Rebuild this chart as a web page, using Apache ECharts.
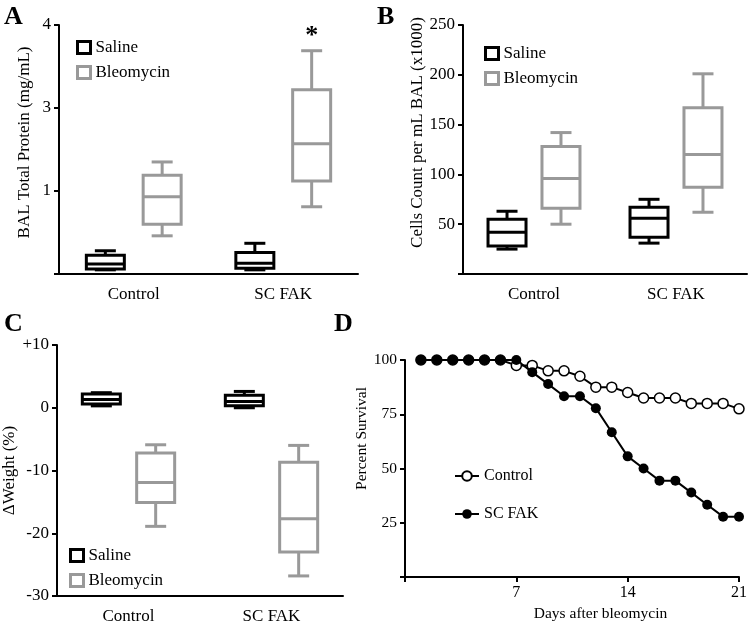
<!DOCTYPE html>
<html>
<head>
<meta charset="utf-8">
<script src="https://cdn.jsdelivr.net/npm/echarts@6/dist/echarts.min.js"></script>
<style>
  html, body { margin: 0; padding: 0; background: #fff; }
  #chart { width: 750px; height: 625px; }
</style>
</head>
<body>
<div id="chart"></div>
<script>
const groups = ['Control', 'SC FAK'];

// box data: [min, q1, median, q3, max]
// panel A is in axis-position units (tick labels are 1, 3, 4 as printed)
const proteinTicks = ['', '1', '3', '4'];
const proteinSaline = [[0.05, 0.06, 0.12, 0.225, 0.28], [0.05, 0.07, 0.13, 0.26, 0.37]];
const proteinBleo = [[0.46, 0.60, 0.93, 1.19, 1.35], [0.81, 1.12, 1.57, 2.22, 2.69]];
const proteinStars = ['', '*'];

const cellsSaline = [[25, 28, 42, 55, 63], [31, 37, 56, 67, 75]];
const cellsBleo = [[50, 66, 96, 128, 142], [62, 87, 120, 167, 201]];

const weightSaline = [[0.3, 0.6, 1.3, 2.2, 2.4], [0.0, 0.3, 1.0, 2.0, 2.6]];
const weightBleo = [[-18.9, -15.1, -11.9, -7.2, -5.9], [-26.8, -23.0, -17.7, -8.7, -6.0]];

const days = [1, 2, 3, 4, 5, 6, 7, 8, 9, 10, 11, 12, 13, 14, 15, 16, 17, 18, 19, 20, 21];
const survivalControl = [100, 100, 100, 100, 100, 100, 97.5, 97.5, 95, 95, 92.5, 87.5, 87.5, 85, 82.5, 82.5, 82.5, 80, 80, 80, 77.5];
const survivalFak = [100, 100, 100, 100, 100, 100, 100, 94.4, 88.9, 83.3, 83.3, 77.8, 66.7, 55.6, 50, 44.4, 44.4, 38.9, 33.3, 27.8, 27.8];

const FONT = '"Liberation Serif", "Times New Roman", serif';
const BLACK = '#000';
const GREY = '#999999';
const BOX_W = 38;
const CAP_W = 21;
const BOX_SHIFT = 0.19;

const boxRows = (arr) => arr.map((v, i) => [i].concat(v));

function renderBox(side, stars) {
  return function (params, api) {
    const idx = api.value(0);
    const band = api.size([1, 0])[0];
    const cx = api.coord([idx, 0])[0] + side * band * BOX_SHIFT;
    const y = [1, 2, 3, 4, 5].map(d => api.coord([idx, api.value(d)])[1]);
    const color = api.visual('color');
    const st = { stroke: color, lineWidth: 3, fill: null };
    const h = BOX_W / 2, c = CAP_W / 2;
    const kids = [
      { type: 'line', shape: { x1: cx, y1: y[0], x2: cx, y2: y[1] }, style: st },
      { type: 'line', shape: { x1: cx, y1: y[3], x2: cx, y2: y[4] }, style: st },
      { type: 'line', shape: { x1: cx - c, y1: y[0], x2: cx + c, y2: y[0] }, style: st },
      { type: 'line', shape: { x1: cx - c, y1: y[4], x2: cx + c, y2: y[4] }, style: st },
      { type: 'rect', shape: { x: cx - h, y: y[3], width: 2 * h, height: y[1] - y[3] }, style: { stroke: color, lineWidth: 3, fill: '#fff' } },
      { type: 'line', shape: { x1: cx - h, y1: y[2], x2: cx + h, y2: y[2] }, style: st }
    ];
    if (stars && stars[idx]) {
      kids.push({ type: 'text', style: { x: cx, y: y[4] - 1, text: stars[idx], align: 'center', verticalAlign: 'bottom',
        font: 'bold 26px ' + FONT, fill: '#000' } });
    }
    return { type: 'group', children: kids };
  };
}

const axisLine = { lineStyle: { color: BLACK, width: 2 } };
const axisTick = { length: 5, lineStyle: { color: BLACK, width: 2 } };
const tickLabel = { color: BLACK, fontFamily: FONT, fontSize: 17 };

function catAxis(gridIndex) {
  return {
    type: 'category', gridIndex, data: groups, boundaryGap: true,
    axisLine: { onZero: false, lineStyle: axisLine.lineStyle },
    axisTick: { alignWithLabel: true, length: 6, lineStyle: axisTick.lineStyle },
    axisLabel: Object.assign({ margin: 12 }, tickLabel)
  };
}

function valAxis(gridIndex, min, max, interval, fmt, name, nameGap, shift, size) {
  return {
    type: 'value', gridIndex, min, max, interval,
    axisLine: Object.assign({ show: true }, axisLine), axisTick: Object.assign({ show: true }, axisTick),
    splitLine: { show: false },
    axisLabel: Object.assign({}, tickLabel, { margin: 8, formatter: fmt, fontSize: size }),
    name, nameLocation: 'middle', nameGap,
    nameTextStyle: { color: BLACK, fontFamily: FONT, fontSize: size, padding: [0, 0, 0, shift] }
  };
}

function boxLegend(left, top) {
  return {
    left, top, orient: 'vertical', icon: 'rect', itemWidth: 13, itemHeight: 12, itemGap: 8, padding: 0,
    selectedMode: false,
    textStyle: { color: BLACK, fontFamily: FONT, fontSize: 17 },
    data: [
      { name: 'Saline', itemStyle: { color: '#fff', borderColor: BLACK, borderWidth: 3 } },
      { name: 'Bleomycin', itemStyle: { color: '#fff', borderColor: GREY, borderWidth: 3 } }
    ]
  };
}

function panelTitle(text, left, top) {
  return { text, left, top, padding: 0, textStyle: { fontFamily: FONT, fontSize: 26, fontWeight: 'bold', color: BLACK } };
}

function boxSeries(name, color, side, data, axisIdx, stars) {
  return {
    type: 'custom', name, xAxisIndex: axisIdx, yAxisIndex: axisIdx, clip: false,
    itemStyle: { color }, data: boxRows(data), renderItem: renderBox(side, stars)
  };
}

const chart = echarts.init(document.getElementById('chart'));
chart.setOption({
  animation: false,
  title: [
    panelTitle('A', 4, 4),
    panelTitle('B', 377, 4),
    panelTitle('C', 4, 311),
    panelTitle('D', 334, 311)
  ],
  legend: [
    boxLegend(76, 39),
    boxLegend(484, 45),
    boxLegend(69, 547),
    {
      left: 454, top: 468, orient: 'vertical', itemWidth: 24, itemHeight: 12, itemGap: 22, padding: 0,
      selectedMode: false,
      textStyle: { color: BLACK, fontFamily: FONT, fontSize: 16 },
      data: ['Control', 'SC FAK']
    }
  ],
  grid: [
    { left: 59, top: 25, width: 299, height: 249 },
    { left: 463, top: 25, width: 284, height: 249 },
    { left: 57, top: 345, width: 286, height: 251 },
    { left: 405, top: 360, width: 339, height: 217 }
  ],
  xAxis: [
    catAxis(0),
    catAxis(1),
    catAxis(2),
    {
      type: 'value', gridIndex: 3, min: 0, max: 21, interval: 7,
      axisLine: { onZero: false, lineStyle: axisLine.lineStyle }, axisTick: Object.assign({ show: true }, axisTick),
      splitLine: { show: false },
      axisLabel: Object.assign({}, tickLabel, { margin: 8, fontSize: 16, formatter: v => (v === 0 ? '' : v) }),
      name: 'Days after bleomycin', nameLocation: 'middle', nameGap: 29,
      nameTextStyle: { color: BLACK, fontFamily: FONT, fontSize: 15.5, padding: [0, 0, 0, 57] }
    }
  ],
  yAxis: [
    valAxis(0, 0, 3, 1, v => proteinTicks[v], 'BAL Total Protein (mg/mL)', 26, 14, 17),
    valAxis(1, 0, 250, 50, v => (v === 0 ? '' : v), 'Cells Count per mL BAL (x1000)', 37, 34, 17),
    valAxis(2, -30, 10, 10, v => (v > 0 ? '+' + v : '' + v), 'ΔWeight (%)', 24, 0, 17),
    valAxis(3, 0, 100, 25, v => (v === 0 ? '' : v), 'Percent Survival', 29, 60, 15.5)
  ],
  series: [
    boxSeries('Saline', BLACK, -1, proteinSaline, 0),
    boxSeries('Bleomycin', GREY, 1, proteinBleo, 0, proteinStars),
    boxSeries('Saline', BLACK, -1, cellsSaline, 1),
    boxSeries('Bleomycin', GREY, 1, cellsBleo, 1),
    boxSeries('Saline', BLACK, -1, weightSaline, 2),
    boxSeries('Bleomycin', GREY, 1, weightBleo, 2),
    {
      type: 'line', name: 'Control', xAxisIndex: 3, yAxisIndex: 3,
      data: days.map((d, i) => [d, survivalControl[i]]),
      symbol: 'circle', symbolSize: 10,
      itemStyle: { color: '#fff', borderColor: BLACK, borderWidth: 1.5 },
      lineStyle: { color: BLACK, width: 2 }
    },
    {
      type: 'line', name: 'SC FAK', xAxisIndex: 3, yAxisIndex: 3,
      data: days.map((d, i) => [d, survivalFak[i]]),
      symbol: 'circle', symbolSize: 10,
      itemStyle: { color: BLACK },
      lineStyle: { color: BLACK, width: 2 }
    }
  ]
});
</script>
</body>
</html>
